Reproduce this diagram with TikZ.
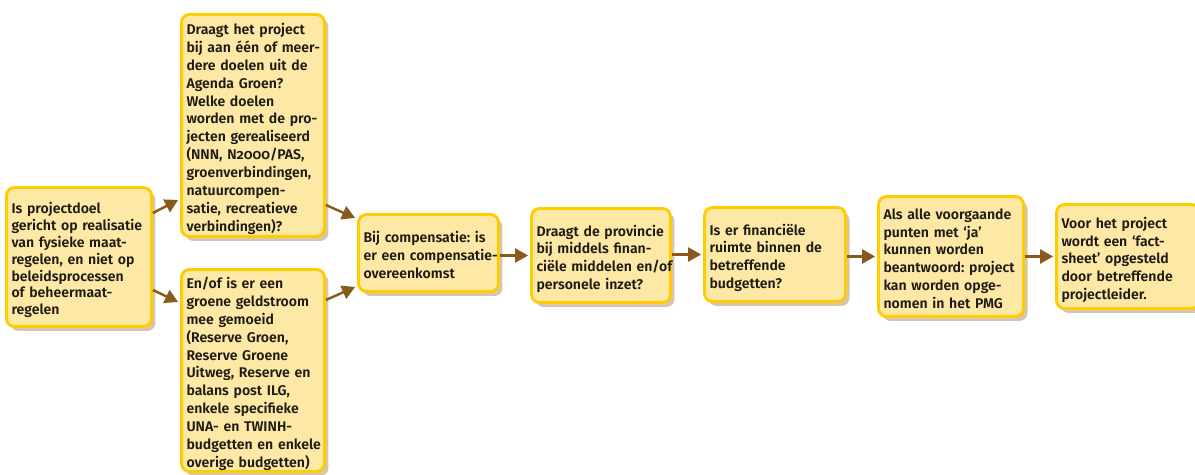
\documentclass[tikz,border=0pt]{standalone}
\usepackage{fontspec}
\setmainfont{Fira Sans}[BoldFont={* SemiBold}, Numbers=OldStyle]
\usetikzlibrary{arrows.meta,shadows,calc}
\definecolor{geel}{HTML}{FDE8A6}
\definecolor{rand}{HTML}{FFCC00}
\definecolor{bruin}{HTML}{8A5A1C}
\definecolor{tekst}{HTML}{1E1A14}
\newcommand{\regels}[1]{\raisebox{-2.2pt}[\height][\depth]{\begin{tabular}{@{}l@{}}#1\end{tabular}}}
\frenchspacing
\tikzset{%
    box/.style={rectangle, rounded corners=0.16cm, draw=rand, line width=1.6pt, fill=geel,
        text=tekst, align=left, inner xsep=0.1cm, inner ysep=0pt,
        font=\bfseries\fontsize{8}{10.2}\selectfont,
        drop shadow={shadow xshift=0.08cm, shadow yshift=-0.09cm, fill=bruin, opacity=0.35}},
    arr/.style={draw=bruin, line width=1.4pt, -{Triangle[length=0.26cm,width=0.28cm]}}
}
\begin{document}
\begin{tikzpicture}[x=0.02cm,y=-0.02cm]
    \useasboundingbox (0,0) rectangle (1195,475);
    \node[box, font=\bfseries\fontsize{8}{9.6}\selectfont, text width=2.70cm, minimum height=2.78cm] (doel) at (79,257)
        {\regels{Is projectdoel\\gericht op realisatie\\van fysieke maat-\\regelen, en niet op\\beleidsprocessen\\of beheermaat-\\regelen}};
    \node[box, text width=2.66cm, minimum height=4.44cm] (agenda) at (253,125.5)
        {\regels{Draagt het project\\bij aan één of meer-\\dere doelen uit de\\Agenda Groen?\\Welke doelen\\worden met de pro-\\jecten gerealiseerd\\(NNN, N2000/PAS,\\groenverbindingen,\\natuurcompen-\\satie, recreatieve\\verbindingen)?}};
    \node[box, text width=2.66cm, minimum height=4.04cm] (geld) at (253,370.5)
        {\regels{En/of is er een\\groene geldstroom\\mee gemoeid\\(Reserve Groen,\\Reserve Groene\\Uitweg, Reserve en\\balans post ILG,\\enkele specifieke\\UNA- en TWINH-\\budgetten en enkele\\overige budgetten)}};
    \node[box, text width=2.60cm, minimum height=1.54cm] (comp) at (428.5,253)
        {\regels{Bij compensatie: is\\er een compensatie-\\overeenkomst}};
    \node[box, text width=2.58cm, minimum height=1.88cm] (prov) at (601,255.5)
        {\regels{Draagt de provincie\\bij middels finan-\\ciële middelen en/of\\personele inzet?}};
    \node[box, text width=2.62cm, minimum height=1.88cm] (ruimte) at (775,254.5)
        {\regels{Is er financiële\\ruimte binnen de\\betreffende\\budgetten?}};
    \node[box, text width=2.70cm, minimum height=2.40cm] (pmg) at (951,256.5)
        {\regels{Als alle voorgaande\\punten met ‘ja’\\kunnen worden\\beantwoord: project\\kan worden opge-\\nomen in het PMG}};
    \node[box, text width=2.66cm, minimum height=2.08cm] (fact) at (1128,256.5)
        {\regels{Voor het project\\wordt een ‘fact-\\sheet’ opgesteld\\door betreffende\\projectleider.}};
    % vertakking
    \draw[arr] ($(doel.east)+(0,-44)$) -- ($(agenda.west)+(-2,74.5)$);
    \draw[arr] ($(doel.east)+(0,33)$) -- ($(geld.west)+(-2,-68.5)$);
    \draw[arr] ($(agenda.east)+(0,79.5)$) -- ($(comp.west)+(-2,-35)$);
    \draw[arr] ($(geld.east)+(0,-70.5)$) -- ($(comp.west)+(-2,34)$);
    % keten
    \draw[arr] (comp.east |- prov.west) -- ($(prov.west)+(-2,0)$);
    \draw[arr] (prov.east |- ruimte.west) -- ($(ruimte.west)+(-2,0)$);
    \draw[arr] (ruimte.east |- pmg.west) -- ($(pmg.west)+(-2,0)$);
    \draw[arr] (pmg.east |- fact.west) -- ($(fact.west)+(-2,0)$);
\end{tikzpicture}
\end{document}
